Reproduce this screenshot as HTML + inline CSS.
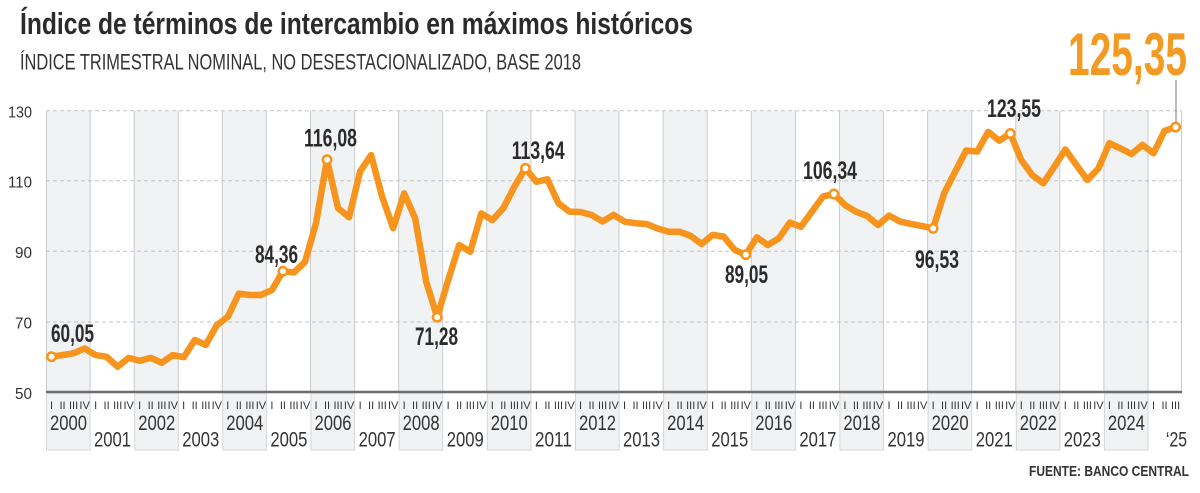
<!DOCTYPE html>
<html><head><meta charset="utf-8"><style>
html,body{margin:0;padding:0;background:#fff;}
svg{display:block;}
text{font-family:"Liberation Sans",sans-serif;}
</style></head><body>
<svg width="1200" height="493" viewBox="0 0 1200 493" xmlns="http://www.w3.org/2000/svg">
<rect width="1200" height="493" fill="#fff"/>
<!-- titles -->
<text x="20" y="34" font-size="31" font-weight="bold" fill="#2b2b2b" textLength="673" lengthAdjust="spacingAndGlyphs">Índice de términos de intercambio en máximos históricos</text>
<text x="20" y="69.5" font-size="22" fill="#333" textLength="561" lengthAdjust="spacingAndGlyphs">ÍNDICE TRIMESTRAL NOMINAL, NO DESESTACIONALIZADO, BASE 2018</text>
<text x="1068" y="75" font-size="60" font-weight="bold" fill="#F39A22" textLength="119" lengthAdjust="spacingAndGlyphs">125,35</text>

<!-- shaded even-year columns (plot) -->
<g fill="#f1f2f4">
<rect x="46" y="110.7" width="44.1" height="281.3"/>
<rect x="134.2" y="110.7" width="44.1" height="281.3"/>
<rect x="222.3" y="110.7" width="44.1" height="281.3"/>
<rect x="310.5" y="110.7" width="44.1" height="281.3"/>
<rect x="398.6" y="110.7" width="44.1" height="281.3"/>
<rect x="486.8" y="110.7" width="44.1" height="281.3"/>
<rect x="575" y="110.7" width="44.1" height="281.3"/>
<rect x="663.1" y="110.7" width="44.1" height="281.3"/>
<rect x="751.3" y="110.7" width="44.1" height="281.3"/>
<rect x="839.4" y="110.7" width="44.1" height="281.3"/>
<rect x="927.6" y="110.7" width="44.1" height="281.3"/>
<rect x="1015.8" y="110.7" width="44.1" height="281.3"/>
<rect x="1103.9" y="110.7" width="44.1" height="281.3"/>
</g>
<!-- shaded even-year boxes under axis -->
<g fill="#f1f2f4" stroke="#d6d6d6" stroke-width="1">
<rect x="46.5" y="393" width="43.6" height="57"/>
<rect x="134.7" y="393" width="43.6" height="57"/>
<rect x="222.8" y="393" width="43.6" height="57"/>
<rect x="311" y="393" width="43.6" height="57"/>
<rect x="399.1" y="393" width="43.6" height="57"/>
<rect x="487.3" y="393" width="43.6" height="57"/>
<rect x="575.5" y="393" width="43.6" height="57"/>
<rect x="663.6" y="393" width="43.6" height="57"/>
<rect x="751.8" y="393" width="43.6" height="57"/>
<rect x="839.9" y="393" width="43.6" height="57"/>
<rect x="928.1" y="393" width="43.6" height="57"/>
<rect x="1016.3" y="393" width="43.6" height="57"/>
<rect x="1104.4" y="393" width="43.6" height="57"/>
</g>
<!-- vertical year lines -->
<g stroke="#cbcbcb" stroke-width="1">
<line x1="46.5" y1="110.7" x2="46.5" y2="392"/>
<line x1="90.1" y1="110.7" x2="90.1" y2="392"/>
<line x1="134.2" y1="110.7" x2="134.2" y2="392"/>
<line x1="178.2" y1="110.7" x2="178.2" y2="392"/>
<line x1="222.3" y1="110.7" x2="222.3" y2="392"/>
<line x1="266.4" y1="110.7" x2="266.4" y2="392"/>
<line x1="310.5" y1="110.7" x2="310.5" y2="392"/>
<line x1="354.6" y1="110.7" x2="354.6" y2="392"/>
<line x1="398.6" y1="110.7" x2="398.6" y2="392"/>
<line x1="442.7" y1="110.7" x2="442.7" y2="392"/>
<line x1="486.8" y1="110.7" x2="486.8" y2="392"/>
<line x1="530.9" y1="110.7" x2="530.9" y2="392"/>
<line x1="575" y1="110.7" x2="575" y2="392"/>
<line x1="619" y1="110.7" x2="619" y2="392"/>
<line x1="663.1" y1="110.7" x2="663.1" y2="392"/>
<line x1="707.2" y1="110.7" x2="707.2" y2="392"/>
<line x1="751.3" y1="110.7" x2="751.3" y2="392"/>
<line x1="795.4" y1="110.7" x2="795.4" y2="392"/>
<line x1="839.4" y1="110.7" x2="839.4" y2="392"/>
<line x1="883.5" y1="110.7" x2="883.5" y2="392"/>
<line x1="927.6" y1="110.7" x2="927.6" y2="392"/>
<line x1="971.7" y1="110.7" x2="971.7" y2="392"/>
<line x1="1015.8" y1="110.7" x2="1015.8" y2="392"/>
<line x1="1059.8" y1="110.7" x2="1059.8" y2="392"/>
<line x1="1103.9" y1="110.7" x2="1103.9" y2="392"/>
<line x1="1148" y1="110.7" x2="1148" y2="392"/>
<line x1="1181.5" y1="110.7" x2="1181.5" y2="392"/>
</g>
<!-- dashed gridlines -->
<g stroke="#c4c4c4" stroke-width="1" stroke-dasharray="4,3">
<line x1="46" y1="110.7" x2="1182" y2="110.7"/>
<line x1="46" y1="180.7" x2="1182" y2="180.7"/>
<line x1="46" y1="251.3" x2="1182" y2="251.3"/>
<line x1="46" y1="322" x2="1182" y2="322"/>
</g>
<!-- axis -->
<line x1="46" y1="392" x2="1182" y2="392" stroke="#6d6d6d" stroke-width="2.5"/>

<!-- y labels -->
<g font-size="16" fill="#333" text-anchor="end">
<text x="32" y="117.5" textLength="24" lengthAdjust="spacingAndGlyphs">130</text>
<text x="32" y="187.3" textLength="24" lengthAdjust="spacingAndGlyphs">110</text>
<text x="32" y="258" textLength="17" lengthAdjust="spacingAndGlyphs">90</text>
<text x="32" y="328.7" textLength="17" lengthAdjust="spacingAndGlyphs">70</text>
<text x="32" y="399" textLength="17" lengthAdjust="spacingAndGlyphs">50</text>
</g>

<!-- quarter labels -->
<g font-size="11" fill="#333" text-anchor="middle">
<text y="409"><tspan x="51.5">I</tspan><tspan x="62.5">II</tspan><tspan x="73.6">III</tspan><tspan x="84.6">IV</tspan></text>
<text y="409"><tspan x="95.6">I</tspan><tspan x="106.6">II</tspan><tspan x="117.7">III</tspan><tspan x="128.7">IV</tspan></text>
<text y="409"><tspan x="139.7">I</tspan><tspan x="150.7">II</tspan><tspan x="161.8">III</tspan><tspan x="172.8">IV</tspan></text>
<text y="409"><tspan x="183.7">I</tspan><tspan x="194.7">II</tspan><tspan x="205.8">III</tspan><tspan x="216.8">IV</tspan></text>
<text y="409"><tspan x="227.8">I</tspan><tspan x="238.8">II</tspan><tspan x="249.9">III</tspan><tspan x="260.9">IV</tspan></text>
<text y="409"><tspan x="271.9">I</tspan><tspan x="282.9">II</tspan><tspan x="294">III</tspan><tspan x="305">IV</tspan></text>
<text y="409"><tspan x="316">I</tspan><tspan x="327">II</tspan><tspan x="338.1">III</tspan><tspan x="349.1">IV</tspan></text>
<text y="409"><tspan x="360.1">I</tspan><tspan x="371.1">II</tspan><tspan x="382.2">III</tspan><tspan x="393.2">IV</tspan></text>
<text y="409"><tspan x="404.1">I</tspan><tspan x="415.1">II</tspan><tspan x="426.2">III</tspan><tspan x="437.2">IV</tspan></text>
<text y="409"><tspan x="448.2">I</tspan><tspan x="459.2">II</tspan><tspan x="470.3">III</tspan><tspan x="481.3">IV</tspan></text>
<text y="409"><tspan x="492.3">I</tspan><tspan x="503.3">II</tspan><tspan x="514.4">III</tspan><tspan x="525.4">IV</tspan></text>
<text y="409"><tspan x="536.4">I</tspan><tspan x="547.4">II</tspan><tspan x="558.5">III</tspan><tspan x="569.5">IV</tspan></text>
<text y="409"><tspan x="580.5">I</tspan><tspan x="591.5">II</tspan><tspan x="602.6">III</tspan><tspan x="613.6">IV</tspan></text>
<text y="409"><tspan x="624.5">I</tspan><tspan x="635.5">II</tspan><tspan x="646.6">III</tspan><tspan x="657.6">IV</tspan></text>
<text y="409"><tspan x="668.6">I</tspan><tspan x="679.6">II</tspan><tspan x="690.7">III</tspan><tspan x="701.7">IV</tspan></text>
<text y="409"><tspan x="712.7">I</tspan><tspan x="723.7">II</tspan><tspan x="734.8">III</tspan><tspan x="745.8">IV</tspan></text>
<text y="409"><tspan x="756.8">I</tspan><tspan x="767.8">II</tspan><tspan x="778.9">III</tspan><tspan x="789.9">IV</tspan></text>
<text y="409"><tspan x="800.9">I</tspan><tspan x="811.9">II</tspan><tspan x="823">III</tspan><tspan x="834">IV</tspan></text>
<text y="409"><tspan x="844.9">I</tspan><tspan x="855.9">II</tspan><tspan x="867">III</tspan><tspan x="878">IV</tspan></text>
<text y="409"><tspan x="889">I</tspan><tspan x="900">II</tspan><tspan x="911.1">III</tspan><tspan x="922.1">IV</tspan></text>
<text y="409"><tspan x="933.1">I</tspan><tspan x="944.1">II</tspan><tspan x="955.2">III</tspan><tspan x="966.2">IV</tspan></text>
<text y="409"><tspan x="977.2">I</tspan><tspan x="988.2">II</tspan><tspan x="999.3">III</tspan><tspan x="1010.3">IV</tspan></text>
<text y="409"><tspan x="1021.3">I</tspan><tspan x="1032.3">II</tspan><tspan x="1043.4">III</tspan><tspan x="1054.4">IV</tspan></text>
<text y="409"><tspan x="1065.3">I</tspan><tspan x="1076.3">II</tspan><tspan x="1087.4">III</tspan><tspan x="1098.4">IV</tspan></text>
<text y="409"><tspan x="1109.4">I</tspan><tspan x="1120.4">II</tspan><tspan x="1131.5">III</tspan><tspan x="1142.5">IV</tspan></text>
<text y="409"><tspan x="1153.5">I</tspan><tspan x="1164.5">II</tspan><tspan x="1175.6">III</tspan></text>
</g>

<!-- year labels -->
<g font-size="21" fill="#333">
<text x="50" y="430" textLength="37" lengthAdjust="spacingAndGlyphs">2000</text>
<text x="94" y="446.5" textLength="37" lengthAdjust="spacingAndGlyphs">2001</text>
<text x="138.2" y="430" textLength="37" lengthAdjust="spacingAndGlyphs">2002</text>
<text x="182.2" y="446.5" textLength="37" lengthAdjust="spacingAndGlyphs">2003</text>
<text x="226.3" y="430" textLength="37" lengthAdjust="spacingAndGlyphs">2004</text>
<text x="270.4" y="446.5" textLength="37" lengthAdjust="spacingAndGlyphs">2005</text>
<text x="314.5" y="430" textLength="37" lengthAdjust="spacingAndGlyphs">2006</text>
<text x="358.6" y="446.5" textLength="37" lengthAdjust="spacingAndGlyphs">2007</text>
<text x="402.6" y="430" textLength="37" lengthAdjust="spacingAndGlyphs">2008</text>
<text x="446.7" y="446.5" textLength="37" lengthAdjust="spacingAndGlyphs">2009</text>
<text x="490.8" y="430" textLength="37" lengthAdjust="spacingAndGlyphs">2010</text>
<text x="534.9" y="446.5" textLength="37" lengthAdjust="spacingAndGlyphs">2011</text>
<text x="579" y="430" textLength="37" lengthAdjust="spacingAndGlyphs">2012</text>
<text x="623" y="446.5" textLength="37" lengthAdjust="spacingAndGlyphs">2013</text>
<text x="667.1" y="430" textLength="37" lengthAdjust="spacingAndGlyphs">2014</text>
<text x="711.2" y="446.5" textLength="37" lengthAdjust="spacingAndGlyphs">2015</text>
<text x="755.3" y="430" textLength="37" lengthAdjust="spacingAndGlyphs">2016</text>
<text x="799.4" y="446.5" textLength="37" lengthAdjust="spacingAndGlyphs">2017</text>
<text x="843.4" y="430" textLength="37" lengthAdjust="spacingAndGlyphs">2018</text>
<text x="887.5" y="446.5" textLength="37" lengthAdjust="spacingAndGlyphs">2019</text>
<text x="931.6" y="430" textLength="37" lengthAdjust="spacingAndGlyphs">2020</text>
<text x="975.7" y="446.5" textLength="37" lengthAdjust="spacingAndGlyphs">2021</text>
<text x="1019.8" y="430" textLength="37" lengthAdjust="spacingAndGlyphs">2022</text>
<text x="1063.8" y="446.5" textLength="37" lengthAdjust="spacingAndGlyphs">2023</text>
<text x="1107.9" y="430" textLength="37" lengthAdjust="spacingAndGlyphs">2024</text>
<text x="1166" y="446.5" textLength="21" lengthAdjust="spacingAndGlyphs">‘25</text>
</g>

<text x="1029" y="476" font-size="15" font-weight="bold" fill="#333" textLength="160" lengthAdjust="spacingAndGlyphs">FUENTE: BANCO CENTRAL</text>

<!-- leader line -->
<line x1="1176" y1="80" x2="1176" y2="122" stroke="#777" stroke-width="1"/>

<!-- data line -->
<polyline transform="matrix(11.02,0,0,-3.515,51.51,567.75)" vector-effect="non-scaling-stroke" fill="none" stroke="#F7941D" stroke-width="6.5" stroke-linejoin="round" stroke-linecap="round"
points="0,60.05 1,60.5 2,61 3,62.4 4,60.5 5,60 6,57.2 7,59.7 8,58.9 9,59.7 10,58.3 11,60.5 12,59.9 13,64.8 14,63.4 15,69 16,71.4 17,78 18,77.6 19,77.6 20,79 21,84.36 22,84 23,87 24,98 25,116.08 26,102.3 27,99.7 28,112.7 29,117.4 30,105.6 31,96.6 32,106.5 33,99.4 34,81.4 35,71.28 36,81.9 37,91.8 38,89.9 39,100.8 40,98.9 41,102.3 42,108.4 43,113.64 44,109.8 45,110.5 46,103.7 47,101.3 48,101.2 49,100.4 50,98.5 51,100.4 52,98.5 53,98 54,97.8 55,96.5 56,95.6 57,95.6 58,94.4 59,92.1 60,94.7 61,94.2 62,90.4 63,89.05 64,94 65,91.8 66,93.7 67,98.2 68,97 69,101.3 70,105.6 71,106.34 72,103.2 73,101.3 74,100.1 75,97.5 76,100.2 77,98.5 78,97.8 79,97.2 80,96.53 81,106.5 82,112.7 83,118.7 84,118.4 85,124 86,121.5 87,123.55 88,116 89,111.7 90,109.4 91,114.1 92,119 93,114.6 94,110.3 95,113.6 96,120.8 97,119.3 98,117.7 99,120.3 100,117.9 101,124.3 102,125.35"/>

<!-- markers -->
<g fill="#fff" stroke="#F7941D" stroke-width="2.5">
<circle cx="51.5" cy="356.7" r="4.2"/>
<circle cx="282.9" cy="271.2" r="4.2"/>
<circle cx="327" cy="159.7" r="4.2"/>
<circle cx="437.2" cy="317.2" r="4.2"/>
<circle cx="525.4" cy="168.3" r="4.2"/>
<circle cx="745.8" cy="254.7" r="4.2"/>
<circle cx="833.9" cy="194" r="4.2"/>
<circle cx="933.1" cy="228.4" r="4.2"/>
<circle cx="1010.3" cy="133.5" r="4.2"/>
<circle cx="1175.6" cy="127.1" r="4.2"/>
</g>

<!-- value labels -->
<g font-size="25" font-weight="bold" fill="#2b2b2b">
<text x="51" y="342" textLength="43" lengthAdjust="spacingAndGlyphs">60,05</text>
<text x="255" y="263" textLength="43" lengthAdjust="spacingAndGlyphs">84,36</text>
<text x="304" y="146.5" textLength="53" lengthAdjust="spacingAndGlyphs">116,08</text>
<text x="415" y="345" textLength="43" lengthAdjust="spacingAndGlyphs">71,28</text>
<text x="511.7" y="159" textLength="53" lengthAdjust="spacingAndGlyphs">113,64</text>
<text x="725" y="283" textLength="43" lengthAdjust="spacingAndGlyphs">89,05</text>
<text x="803" y="179" textLength="54" lengthAdjust="spacingAndGlyphs">106,34</text>
<text x="915" y="268" textLength="44" lengthAdjust="spacingAndGlyphs">96,53</text>
<text x="987" y="117" textLength="54" lengthAdjust="spacingAndGlyphs">123,55</text>
</g>
</svg>
</body></html>
